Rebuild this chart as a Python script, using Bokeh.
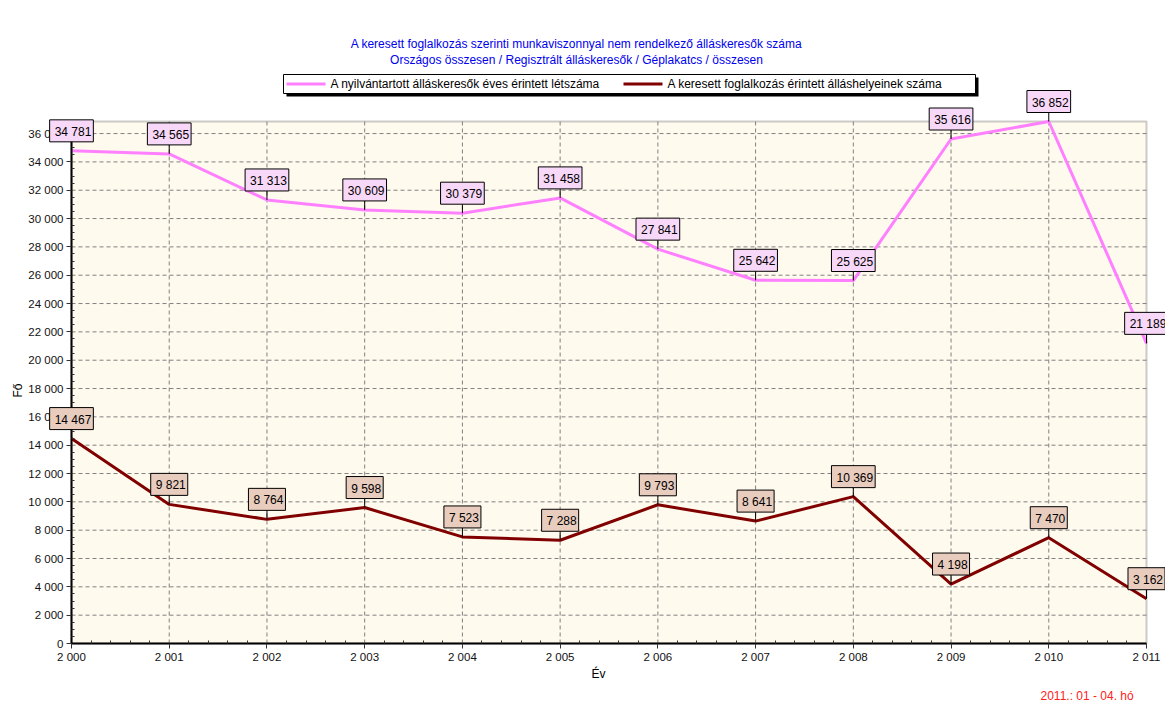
import math
from bokeh.plotting import figure
from bokeh.models import Range1d, Label, BoxAnnotation, FixedTicker, ColumnDataSource, LinearAxis
from bokeh.embed import file_html
from bokeh.resources import INLINE

years = [2000, 2001, 2002, 2003, 2004, 2005, 2006, 2007, 2008, 2009, 2010, 2011]
year_labels = ["2 000", "2 001", "2 002", "2 003", "2 004", "2 005", "2 006",
               "2 007", "2 008", "2 009", "2 010", "2 011"]
registered = [34781, 34565, 31313, 30609, 30379, 31458, 27841, 25642, 25625, 35616, 36852, 21189]
vacancies = [14467, 9821, 8764, 9598, 7523, 7288, 9793, 8641, 10369, 4198, 7470, 3162]
y_ticks = list(range(0, 36001, 2000))

title1 = "A keresett foglalkozás szerinti munkaviszonnyal nem rendelkező álláskeresők száma"
title2 = "Országos összesen / Regisztrált álláskeresők / Géplakatcs / összesen"
series1_name = "A nyilvántartott álláskeresők éves érintett létszáma"
series2_name = "A keresett foglalkozás érintett álláshelyeinek száma"
note = "2011.:  01 - 04. hó"
x_title = "Év"
y_title = "Fő"

FONT = "Liberation Sans"
PINK = "#FF80FF"
DARK = "#800000"

W, H = 1165, 710
# plot-area pixel box (canvas coords)
PL, PR, PT, PB = 71, 1146, 121, 643
X_MIN, X_MAX = years[0], years[-1]
Y_MIN, Y_MAX = 0, max(registered)
kx = (X_MAX - X_MIN) / (PR - PL)
ky = (Y_MAX - Y_MIN) / (PB - PT)


def dx(px):
    return X_MIN + (px - PL) * kx


def dy(py):
    return Y_MIN + (PB - py) * ky


p = figure(width=W, height=H, output_backend="svg", toolbar_location=None,
           x_range=Range1d(dx(0), dx(W)), y_range=Range1d(dy(H), dy(0)),
           x_axis_location=None, y_axis_location=None,
           min_border_left=0, min_border_right=0, min_border_top=0, min_border_bottom=0)
p.background_fill_color = "white"
p.border_fill_color = "white"
p.outline_line_color = None
p.xgrid.visible = False
p.ygrid.visible = False

# plot area background
p.add_layout(BoxAnnotation(left=X_MIN, right=X_MAX, bottom=Y_MIN, top=Y_MAX,
                           fill_color="#FFFAEE", fill_alpha=1, line_color="#555555",
                           line_width=2, level="underlay", editable=False))

# grid lines
grid_dash = "4 3"
p.segment(x0=years[1:-1], y0=[Y_MIN] * (len(years) - 2), x1=years[1:-1], y1=[Y_MAX] * (len(years) - 2),
          line_color="#808080", line_dash=grid_dash, line_width=1)
p.segment(x0=[X_MIN] * (len(y_ticks) - 1), y0=y_ticks[1:], x1=[X_MAX] * (len(y_ticks) - 1), y1=y_ticks[1:],
          line_color="#808080", line_dash=grid_dash, line_width=1)

# axes at fixed locations
xaxis = LinearAxis(fixed_location=Y_MIN, bounds=(X_MIN, X_MAX))
xaxis.ticker = FixedTicker(ticks=years, minor_ticks=[y + k / 5 for y in years[:-1] for k in range(1, 5)])
xaxis.major_label_overrides = {y: l for y, l in zip(years, year_labels)}
yaxis = LinearAxis(fixed_location=X_MIN, bounds=(Y_MIN, Y_MAX))
yaxis.ticker = FixedTicker(ticks=y_ticks,
                           minor_ticks=[v + k * 500 for v in y_ticks for k in range(1, 4) if v + k * 500 < Y_MAX])
yaxis.major_label_overrides = {v: f"{v:,}".replace(",", " ") for v in y_ticks}
for ax in (xaxis, yaxis):
    ax.axis_line_width = 2
    ax.axis_line_color = "black"
    ax.major_tick_out = 5
    ax.major_tick_in = 0
    ax.minor_tick_out = 0
    ax.minor_tick_in = 3
    ax.major_tick_line_color = "#333333"
    ax.minor_tick_line_color = "#333333"
    ax.major_label_text_font = FONT
    ax.major_label_text_font_size = "11.5px"
    ax.major_label_text_color = "#111111"
xaxis.major_label_standoff = 2
yaxis.major_label_standoff = 3
p.add_layout(xaxis, "below")
p.add_layout(yaxis, "left")

src = ColumnDataSource(dict(x=years, r=registered, v=vacancies))
p.line("x", "r", source=src, line_color=PINK, line_width=3)
p.line("x", "v", source=src, line_color=DARK, line_width=3)

# connectors and value boxes
p.ray("x", "r", source=src, length=9, length_units="screen", angle=math.pi / 2, line_color="black", line_width=1)
p.ray("x", "v", source=src, length=9, length_units="screen", angle=math.pi / 2, line_color="black", line_width=1)


def fmt(v):
    return f"{v:,}".replace(",", " ")


for x, v in zip(years, registered):
    p.add_layout(Label(x=x, y=v, text=fmt(v), y_offset=9, anchor="bottom_center",
                       text_font=FONT, text_font_size="12px", text_color="black",
                       background_fill_color="#F8D8F8", border_line_color="black",
                       border_line_width=1, padding=(5, 2, 5, 3)))
for x, v in zip(years, vacancies):
    p.add_layout(Label(x=x, y=v, text=fmt(v), y_offset=9, anchor="bottom_center",
                       text_font=FONT, text_font_size="12px", text_color="black",
                       background_fill_color="#E8CCBE", border_line_color="black",
                       border_line_width=1, padding=(5, 2, 5, 3)))


def lab(px, py, text, color="black", align="left", size="12px", angle=0.0):
    p.add_layout(Label(x=dx(px), y=dy(py), text=text, angle=angle,
                       text_font=FONT, text_font_size=size, text_color=color,
                       text_align=align, text_baseline="middle"))


def box(x0, y0, x1, y1, fill, line=None):
    p.add_layout(BoxAnnotation(left=dx(x0), right=dx(x1), top=dy(y0), bottom=dy(y1),
                               fill_color=fill, fill_alpha=1,
                               line_color=line, line_alpha=1 if line else 0, line_width=1,
                               editable=False))


lab(576, 43, title1, color="#0000EE", align="center")
lab(576, 59, title2, color="#0000EE", align="center")

box(286, 77, 978, 96, "black")
box(283, 74, 975, 93, "white", "black")
box(286, 82, 325, 85, PINK)
lab(330, 83.5, series1_name)
box(623, 82, 662, 85, DARK)
lab(667, 83.5, series2_name)

lab(598, 673, x_title, align="center")
lab(17, 390, y_title, align="center", angle=math.pi / 2)
lab(1040, 695, note, color="#FF2020")

open("out.html", "w").write(file_html(p, INLINE))
